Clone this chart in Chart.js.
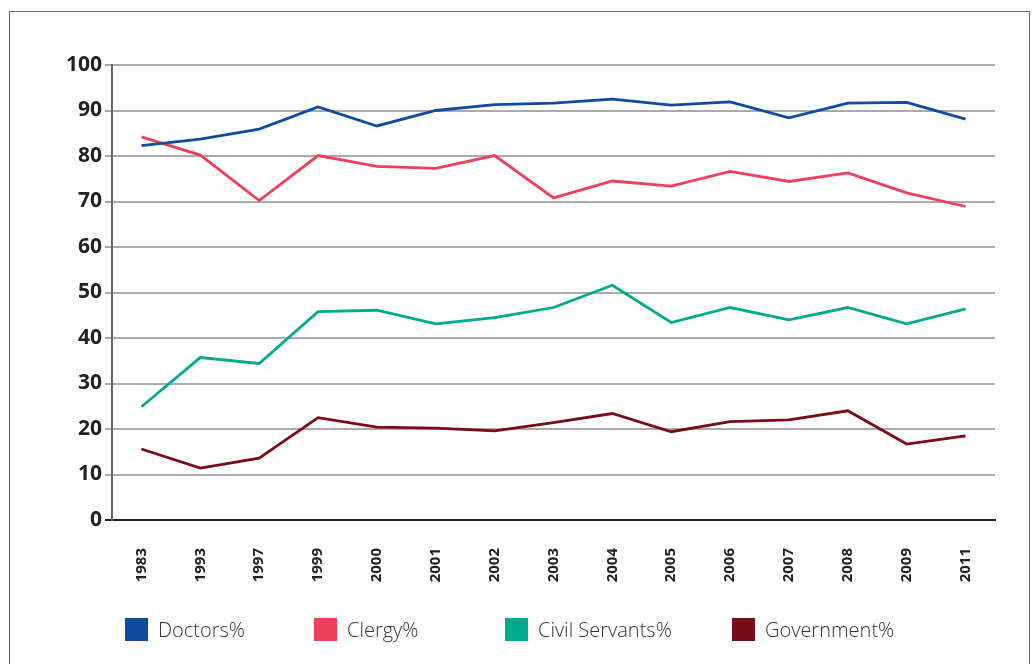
<!DOCTYPE html>
<html>
<head>
<meta charset="utf-8">
<script src="https://cdn.jsdelivr.net/npm/chart.js@4.4.1/dist/chart.umd.min.js"></script>
<style>
  html, body { margin: 0; padding: 0; background: #fff; }
  #wrap { position: relative; width: 1032px; height: 664px; overflow: hidden; }
  #frame {
    position: absolute; left: 9px; top: 11px; width: 1021px; height: 700px;
    border: 1px solid #666; border-bottom: none; box-sizing: border-box;
  }
  #c { position: absolute; left: 0; top: 0; }
  .lg { position: absolute; top: 618px; height: 23px; display: flex; align-items: center;
        font-family: "Open Sans", sans-serif; font-weight: 300; font-size: 20px; color: #333; }
  .lg span.box { display: inline-block; width: 23px; height: 23px; margin-right: 10px; }
</style>
</head>
<body>
<div id="wrap">
  <div id="frame"></div>
  <canvas id="c" width="1032" height="664"></canvas>
  <div id="legend"></div>
</div>
<script>
"use strict";

// data
var years = ["1983", "1993", "1997", "1999", "2000", "2001", "2002", "2003", "2004", "2005", "2006", "2007", "2008", "2009", "2011"];
var doctors = [82.3, 83.7, 85.9, 90.8, 86.6, 90.0, 91.3, 91.6, 92.5, 91.2, 91.9, 88.4, 91.6, 91.8, 88.1];
var clergy = [84.2, 80.2, 70.2, 80.1, 77.7, 77.3, 80.1, 70.8, 74.5, 73.4, 76.6, 74.4, 76.3, 71.9, 68.9];
var civilServants = [24.9, 35.7, 34.4, 45.8, 46.1, 43.1, 44.5, 46.7, 51.6, 43.4, 46.7, 44.0, 46.7, 43.1, 46.4];
var government = [15.6, 11.4, 13.6, 22.5, 20.4, 20.2, 19.6, 21.4, 23.4, 19.4, 21.6, 22.0, 24.0, 16.7, 18.5];
var seriesNames = ["Doctors%", "Clergy%", "Civil Servants%", "Government%"];
var colors = ['#0f4c9f', '#f03f5a', '#00aa8f', '#780c17'];
var legendLeft = [125, 314, 505, 732];

var allSeries = [doctors, clergy, civilServants, government];
var datasets = [];
allSeries.forEach((values, i) => {
  datasets.push({
    label: seriesNames[i],
    data: values,
    borderColor: colors[i],
    backgroundColor: colors[i],
    borderWidth: 2.8,
    pointRadius: 0,
    tension: 0,
  });
});

var ctx = document.getElementById("c").getContext('2d');
var myChart = new Chart(ctx, {
  type: 'line',
  data: {
    labels: years,
    datasets: datasets,
  },
  options: {
    responsive: false,
    animation: false,
    layout: {
      padding: { top: 65, right: 37, left: 0, bottom: 0 },
    },
    plugins: {
      legend: { display: false },
      tooltip: { enabled: false },
    },
    scales: {
      x: {
        offset: true,
        grid: { display: false, drawTicks: false, tickLength: 0 },
        border: { color: '#222', width: 2 },
        ticks: {
          color: '#222',
          font: { family: 'Open Sans', weight: 'bold', size: 15 },
          minRotation: 90,
          maxRotation: 90,
          padding: 28,
        },
        afterFit: function (scale) { scale.height = 144; },
      },
      y: {
        min: 0,
        max: 100,
        grid: {
          color: (c) => (c.tick && c.tick.value === 0) ? '#222' : '#aaa',
          lineWidth: 2,
          tickLength: 7,
        },
        border: { color: '#666', width: 2 },
        ticks: {
          stepSize: 10,
          color: '#222',
          font: { family: 'Open Sans', weight: 'bold', size: 21 },
          padding: 3,
        },
        afterFit: function (scale) { scale.width = 112; },
      },
    },
  },
});

// legend under the chart
var legend = document.getElementById("legend");
seriesNames.forEach((name, i) => {
  var item = document.createElement("div");
  item.className = "lg";
  item.style.left = legendLeft[i] + "px";
  item.innerHTML = '<span class="box" style="background:' + colors[i] + '"></span>' + name;
  legend.appendChild(item);
});
</script>
</body>
</html>
